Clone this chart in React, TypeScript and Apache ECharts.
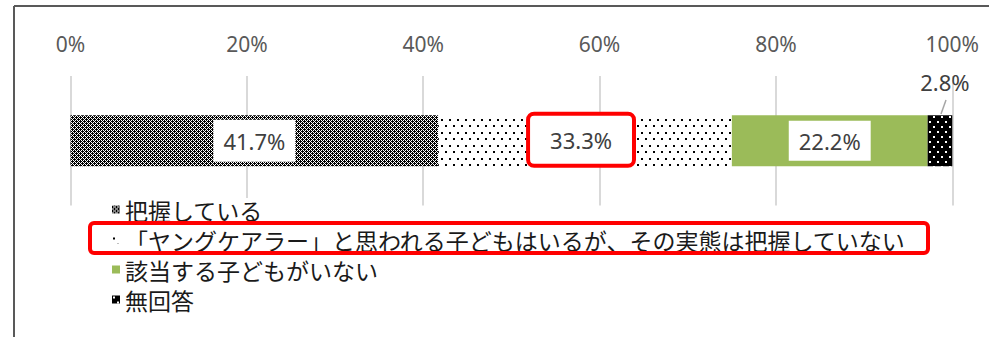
import React, { useEffect, useRef } from "react";
import * as echarts from "echarts";

const categories = ["回答"];
const seriesNames = [
  "把握している",
  "「ヤングケアラー」と思われる子どもはいるが、その実態は把握していない",
  "該当する子どもがいない",
  "無回答",
];
const seriesValues = [41.7, 33.3, 22.2, 2.8];
const axisMin = 0;
const axisMax = 100;
const axisStep = 20;

function makeTile(w: number, h: number, bg: string, fg: string, cells: number[][]) {
  const c = document.createElement("canvas");
  c.width = w;
  c.height = h;
  const ctx = c.getContext("2d")!;
  ctx.fillStyle = bg;
  ctx.fillRect(0, 0, w, h);
  ctx.fillStyle = fg;
  cells.forEach(([x, y, s]) => ctx.fillRect(x, y, s, s));
  return c;
}

function checkerTile() {
  const rows = ["1010", "1101", "1010", "0111"];
  const cells: number[][] = [];
  rows.forEach((r, y) => r.split("").forEach((v, x) => { if (v === "1") cells.push([x, y, 1]); }));
  return makeTile(4, 4, "#ffffff", "#000000", cells);
}

export default function App() {
  const ref = useRef<HTMLDivElement>(null);
  useEffect(() => {
    if (!ref.current) return;
    const chart = echarts.init(ref.current, undefined, { renderer: "svg" });
    const patterns: any[] = [
      { image: checkerTile(), repeat: "repeat" },
      { image: makeTile(8, 13, "#ffffff", "#000000", [[1, 2, 2], [5, 8, 2]]), repeat: "repeat" },
      "#9BBB59",
      { image: makeTile(8, 10, "#000000", "#ffffff", [[1, 1, 2], [5, 6, 2]]), repeat: "repeat" },
    ];
    const labelBase = {
      show: true,
      position: "inside",
      formatter: (p: any) => p.value.toFixed(1) + "%",
      color: "#404040",
      fontSize: 22,
      fontFamily: "Noto Sans",
      backgroundColor: "#ffffff",
      padding: [10, 10],
    };
    const series: any[] = seriesNames.map((name, i) => {
      const s: any = {
        name,
        type: "bar",
        stack: "total",
        barWidth: 51,
        itemStyle: { color: patterns[i] },
        label: { ...labelBase },
        data: [seriesValues[i]],
      };
      if (i === 1) {
        s.data = [
          {
            value: seriesValues[i],
            label: {
              borderColor: "#ff0000",
              borderWidth: 4,
              borderRadius: 4,
              padding: [13, 20],
              offset: [-4, -1],
            },
          },
        ];
      }
      if (i === 2) s.label.padding = [9, 10];
      if (i === 3) {
        s.label = {
          show: true,
          position: "top",
          distance: 0,
          formatter: (p: any) => p.value.toFixed(1) + "%",
          color: "#404040",
          fontSize: 22,
          fontFamily: "Noto Sans",
        };
        s.labelLayout = { dx: 5, dy: -22 };
      }
      return s;
    });
    chart.setOption({
      animation: false,
      backgroundColor: "#ffffff",
      grid: { left: 70.5, right: 36.7, top: 76, bottom: 131.5 },
      xAxis: {
        type: "value",
        position: "top",
        min: axisMin,
        max: axisMax,
        interval: axisStep,
        axisLine: { show: false },
        axisTick: { show: false },
        axisLabel: {
          formatter: "{value}%",
          color: "#595959",
          fontSize: 21,
          fontFamily: "Noto Sans",
          margin: 22,
        },
        splitLine: { lineStyle: { color: "#d9d9d9", width: 2 } },
      },
      yAxis: { type: "category", data: categories, show: false },
      legend: {
        orient: "vertical",
        left: 112,
        top: 198,
        padding: 0,
        itemWidth: 8,
        itemHeight: 8,
        itemGap: 7,
        icon: "rect",
        textStyle: {
          fontSize: 23,
          lineHeight: 23,
          color: "#1a1a1a",
          fontFamily: "Noto Sans CJK JP",
          backgroundColor: "#ffffff",
        },
        data: seriesNames,
      },
      graphic: [
        { type: "line", shape: { x1: 14, y1: 6, x2: 989, y2: 6 }, style: { stroke: "#595959", lineWidth: 2 } },
        { type: "line", shape: { x1: 14, y1: 6, x2: 14, y2: 337 }, style: { stroke: "#595959", lineWidth: 2 } },
        { type: "line", shape: { x1: 946, y1: 100, x2: 941, y2: 114 }, style: { stroke: "#a6a6a6", lineWidth: 1.5 } },
        {
          type: "rect",
          shape: { x: 90, y: 223, width: 838, height: 30, r: 4 },
          style: { fill: "none", stroke: "#ff0000", lineWidth: 4 },
          z: 100,
        },
      ],
      series,
    });
    return () => chart.dispose();
  }, []);
  return <div ref={ref} style={{ position: "absolute", left: 0, top: 0, width: 989, height: 337 }} />;
}
